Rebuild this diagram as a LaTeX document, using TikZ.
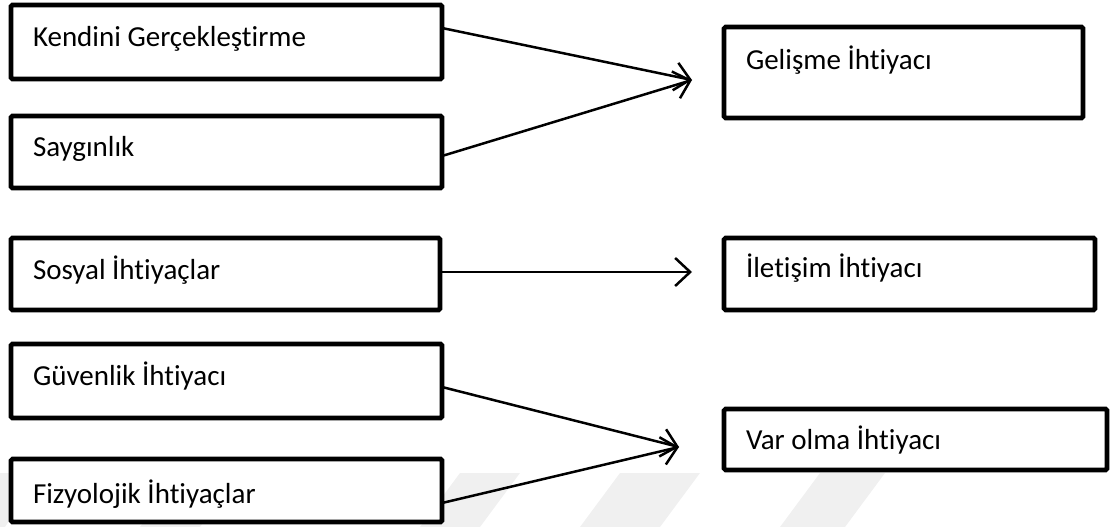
\documentclass[tikz,border=0pt]{standalone}
\usepackage{fontspec}
\setmainfont{Carlito}[Ligatures={NoCommon}]
\usetikzlibrary{arrows.meta}
\begin{document}
\begin{tikzpicture}[x=1pt,y=-1pt,
  box/.style={draw=black, line width=4.6pt, rounded corners=1.5pt, fill=white,
    inner sep=0pt, outer sep=0pt, anchor=north west},
  lbl/.style={inner sep=0pt, outer sep=0pt, anchor=base west,
    font=\fontsize{29}{35}\selectfont},
  conn/.style={draw=black, line width=2.5pt,
    -{Straight Barb[length=15pt,width=28pt,line width=2.5pt]}},
  wm/.style={fill=black!6, draw=none}]
\useasboundingbox (0,0) rectangle (1112,527);
% faint watermark
\fill[wm] (0,473) -- (40,473) -- (5,527) -- (0,527) -- cycle;
\fill[wm] (180,473) -- (240,473) -- (200,527) -- (140,527) -- cycle;
\fill[wm] (460,473) -- (520,473) -- (480,527) -- (420,527) -- cycle;
\fill[wm] (620,473) -- (700,473) -- (660,527) -- (580,527) -- cycle;
\fill[wm] (820,473) -- (885,473) -- (845,527) -- (780,527) -- cycle;
% left boxes
\node[box, minimum width=431pt, minimum height=74pt] (b1) at (11,5) {};
\node[box, minimum width=431pt, minimum height=72pt] (b2) at (11,116) {};
\node[box, minimum width=429pt, minimum height=72pt] (b3) at (11,238) {};
\node[box, minimum width=431pt, minimum height=74pt] (b4) at (11,344) {};
\node[box, minimum width=431pt, minimum height=63pt] (b5) at (11,459) {};
% right boxes
\node[box, minimum width=359pt, minimum height=91pt] (r1) at (724,27) {};
\node[box, minimum width=371pt, minimum height=72pt] (r2) at (724,238) {};
\node[box, minimum width=383pt, minimum height=61pt] (r3) at (724,409) {};
% texts
\node[lbl] (t1) at (33,47) {Kendini Gerçekleştirme};
\node[lbl] (t2) at (33,157) {Saygınlık};
\node[lbl] (t3) at (33,279) {Sosyal İhtiyaçlar};
\node[lbl] (t4) at (33,385) {Güvenlik İhtiyacı};
\node[lbl] (t5) at (33,503) {Fizyolojik İhtiyaçlar};
\node[lbl] (t6) at (746,70) {Gelişme İhtiyacı};
\node[lbl] (t7) at (746,277) {İletişim İhtiyacı};
\node[lbl] (t8) at (746,449) {Var olma İhtiyacı};
% arrow tips
\coordinate (p1) at (692,80);
\coordinate (p2) at (692,272);
\coordinate (p3) at (679,447);
% connectors
\draw[conn] ([yshift=14pt]b1.east) -- (p1);
\draw[conn] ([yshift=-4pt]b2.east) -- (p1);
\draw[conn] ([yshift=2pt]b3.east) -- (p2);
\draw[conn] ([yshift=-6pt]b4.east) -- (p3);
\draw[conn] ([yshift=-12.5pt]b5.east) -- (p3);
\end{tikzpicture}
\end{document}
